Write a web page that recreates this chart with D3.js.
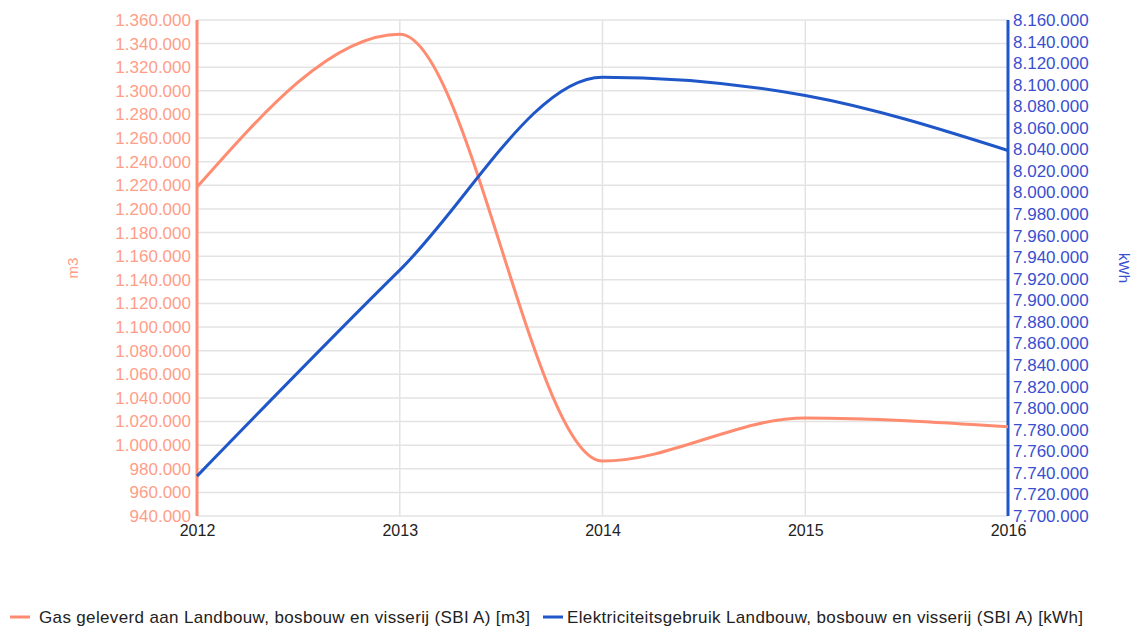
<!DOCTYPE html>
<html>
<head>
<meta charset="utf-8">
<script src="https://cdn.jsdelivr.net/npm/d3@7"></script>
<style>
  html, body { margin: 0; padding: 0; background: #fff; }
  svg { display: block; font-family: "Liberation Sans", Arial, sans-serif; }
</style>
</head>
<body>
<svg id="chart" width="1141" height="627"></svg>
<script>
// Years on the horizontal axis
const years = [2012, 2013, 2014, 2015, 2016];
// Gas delivered to agriculture, forestry and fishing (m3)
const gasValues = [1218500, 1348000, 986500, 1023000, 1015500];
// Electricity use in agriculture, forestry and fishing (kWh)
const elecValues = [7737000, 7928000, 8107000, 8090000, 8039000];

// Axis domains and tick steps
const gasDomain = [940000, 1360000];
const elecDomain = [7700000, 8160000];
const gasStep = 20000;
const elecStep = 20000;

const seriesNames = [
  "Gas geleverd aan Landbouw, bosbouw en visserij (SBI A) [m3]",
  "Elektriciteitsgebruik Landbouw, bosbouw en visserij (SBI A) [kWh]"
];
const axisTitles = ["m3", "kWh"];

const gasColor = "#ff8c70";
const gasText = "#ff9d88";
const elecColor = "#1f57c8";
const elecText = "#3a4fcf";

const margin = { left: 197, right: 1008, top: 20, bottom: 516 };

const svg = d3.select("#chart");

const x = d3.scaleLinear().domain([years[0], years[years.length - 1]]).range([margin.left, margin.right]);
const yGas = d3.scaleLinear().domain(gasDomain).range([margin.bottom, margin.top]);
const yElec = d3.scaleLinear().domain(elecDomain).range([margin.bottom, margin.top]);

const gasTicks = d3.range(gasDomain[0], gasDomain[1] + 1, gasStep);
const elecTicks = d3.range(elecDomain[0], elecDomain[1] + 1, elecStep);

// Dutch number format: dot as thousands separator
const nl = d3.formatLocale({ decimal: ",", thousands: ".", grouping: [3], currency: ["€", ""] });
const fmt = nl.format(",d");

// Grid
const grid = svg.append("g");
grid.selectAll("line.h").data(gasTicks).join("line")
  .attr("x1", margin.left).attr("x2", margin.right)
  .attr("y1", d => yGas(d)).attr("y2", d => yGas(d))
  .attr("stroke", "#e3e3e3").attr("stroke-width", 1.5);
grid.selectAll("line.v").data(years).join("line")
  .attr("x1", d => x(d)).attr("x2", d => x(d))
  .attr("y1", margin.top).attr("y2", margin.bottom)
  .attr("stroke", "#e3e3e3").attr("stroke-width", 1.5);

// Left axis (gas)
const leftAxis = svg.append("g")
  .attr("transform", `translate(${margin.left},0)`)
  .call(d3.axisLeft(yGas).tickValues(gasTicks).tickFormat(fmt).tickSize(0).tickPadding(6));
leftAxis.select(".domain").remove();
leftAxis.selectAll("text").attr("fill", gasText).attr("font-size", 17)
  .attr("font-family", "Liberation Sans, Arial, sans-serif");

// Right axis (electricity)
const rightAxis = svg.append("g")
  .attr("transform", `translate(${margin.right},0)`)
  .call(d3.axisRight(yElec).tickValues(elecTicks).tickFormat(fmt).tickSize(0).tickPadding(5));
rightAxis.select(".domain").remove();
rightAxis.selectAll("text").attr("fill", elecText).attr("font-size", 17)
  .attr("font-family", "Liberation Sans, Arial, sans-serif");

// Bottom axis (years)
const bottomAxis = svg.append("g")
  .attr("transform", `translate(0,${margin.bottom})`)
  .call(d3.axisBottom(x).tickValues(years).tickFormat(d3.format("d")).tickSize(0).tickPadding(9));
bottomAxis.select(".domain").remove();
bottomAxis.selectAll("text").attr("fill", "#222").attr("font-size", 16)
  .attr("font-family", "Liberation Sans, Arial, sans-serif");

// Axis lines
svg.append("line")
  .attr("x1", margin.left).attr("x2", margin.left)
  .attr("y1", margin.top).attr("y2", margin.bottom)
  .attr("stroke", gasColor).attr("stroke-width", 3);
svg.append("line")
  .attr("x1", margin.right).attr("x2", margin.right)
  .attr("y1", margin.top).attr("y2", margin.bottom)
  .attr("stroke", elecColor).attr("stroke-width", 3);

// Axis titles
svg.append("text")
  .attr("transform", `translate(78,${(margin.top + margin.bottom) / 2}) rotate(-90)`)
  .attr("text-anchor", "middle").attr("fill", gasText).attr("font-size", 15)
  .text(axisTitles[0]);
svg.append("text")
  .attr("transform", `translate(1119,${(margin.top + margin.bottom) / 2}) rotate(90)`)
  .attr("text-anchor", "middle").attr("fill", elecText).attr("font-size", 15)
  .text(axisTitles[1]);

// Lines
const gasLine = d3.line().x((d, i) => x(years[i])).y(d => yGas(d)).curve(d3.curveMonotoneX);
const elecLine = d3.line().x((d, i) => x(years[i])).y(d => yElec(d)).curve(d3.curveMonotoneX);

svg.append("path").datum(gasValues)
  .attr("d", gasLine).attr("fill", "none")
  .attr("stroke", gasColor).attr("stroke-width", 3);
svg.append("path").datum(elecValues)
  .attr("d", elecLine).attr("fill", "none")
  .attr("stroke", elecColor).attr("stroke-width", 3);

// Legend
const legend = svg.append("g");
const legendItems = [
  { name: seriesNames[0], color: gasColor, x: 10, tx: 39, w: 491 },
  { name: seriesNames[1], color: elecColor, x: 543, tx: 567, w: 516 }
];
legendItems.forEach(item => {
  legend.append("line")
    .attr("x1", item.x).attr("x2", item.x + 20)
    .attr("y1", 617).attr("y2", 617)
    .attr("stroke", item.color).attr("stroke-width", 3);
  legend.append("text")
    .attr("x", item.tx).attr("y", 623)
    .attr("fill", "#222").attr("font-size", 17)
    .attr("textLength", item.w).attr("lengthAdjust", "spacing")
    .text(item.name);
});
</script>
</body>
</html>
